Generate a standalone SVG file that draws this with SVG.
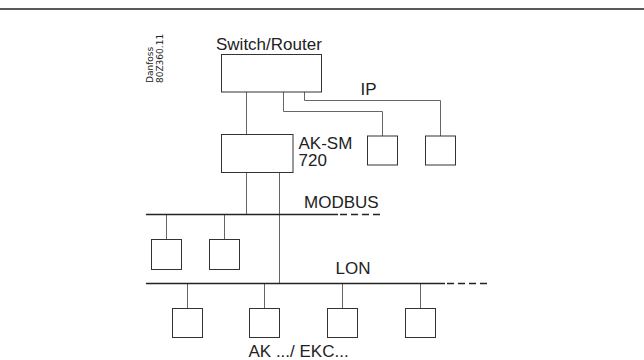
<svg xmlns="http://www.w3.org/2000/svg" width="644" height="360" viewBox="0 0 644 360">
<style>
.box{fill:#fff;stroke:#333;stroke-width:1}
.wire{fill:none;stroke:#666;stroke-width:1}
.bus{fill:none;stroke:#222;stroke-width:1.3}
.dash{fill:none;stroke:#222;stroke-width:1.5;stroke-dasharray:7 4}
.lbl{font-family:"Liberation Sans",Arial,sans-serif;font-size:17px;fill:#222}
.code{font-family:"DejaVu Sans",sans-serif;font-size:9px;fill:#222}
</style>
<rect width="644" height="360" fill="#fff"/>
<line x1="0" y1="9" x2="644" y2="9" stroke="#222" stroke-width="1.5"/>
<g id="code-label">
<text class="code" transform="translate(153,83) rotate(-90)">Danfoss</text>
<text class="code" transform="translate(163,83) rotate(-90)">80Z360.11</text>
</g>
<g id="connectors">
<path class="wire" d="M246.5 92V134.5"/>
<path class="wire" d="M283.5 92V111.5H382.5V136"/>
<path class="wire" d="M304.5 92V100.5H440.5V136"/>
<path class="wire" d="M246.5 172.5V214.5"/>
<path class="wire" d="M279.5 172.5V283.5"/>
<path class="wire" d="M166.5 214.5V239.5M224.5 214.5V239.5"/>
<path class="wire" d="M187.5 283.5V308.5M264.5 283.5V308.5M342.5 283.5V308.5M420.5 283.5V308.5"/>
<path class="bus" d="M146 214.5H338"/>
<path class="dash" d="M340 214.5H382"/>
<path class="bus" d="M146 283.5H445"/>
<path class="dash" d="M447 283.5H489"/>
</g>
<g id="switch-router">
<rect class="box" x="221.5" y="54.5" width="100" height="37.5"/>
<text class="lbl" x="216" y="50">Switch/Router</text>
</g>
<g id="ip-label"><text class="lbl" x="360.5" y="95">IP</text></g>
<g id="ak-sm720">
<rect class="box" x="221.5" y="134.5" width="71.5" height="38"/>
<text class="lbl" x="298.5" y="148.5">AK-SM</text>
<text class="lbl" x="298.5" y="166">720</text>
</g>
<g id="ip-device-1"><rect class="box" x="367.5" y="136" width="30" height="29"/></g>
<g id="ip-device-2"><rect class="box" x="425.5" y="136" width="30" height="29"/></g>
<g id="modbus-label"><text class="lbl" x="304" y="207.5">MODBUS</text></g>
<g id="modbus-device-1"><rect class="box" x="151.5" y="239.5" width="30" height="30"/></g>
<g id="modbus-device-2"><rect class="box" x="209.5" y="239.5" width="30" height="30"/></g>
<g id="lon-label"><text class="lbl" x="335.5" y="274">LON</text></g>
<g id="lon-device-1"><rect class="box" x="172.5" y="308.5" width="30" height="29"/></g>
<g id="lon-device-2"><rect class="box" x="249.5" y="308.5" width="30" height="29"/></g>
<g id="lon-device-3"><rect class="box" x="327.5" y="308.5" width="30" height="29"/></g>
<g id="lon-device-4"><rect class="box" x="405.5" y="308.5" width="30" height="29"/></g>
<g id="devices-label"><text class="lbl" x="248.5" y="356.5">AK .../ EKC...</text></g>
</svg>
